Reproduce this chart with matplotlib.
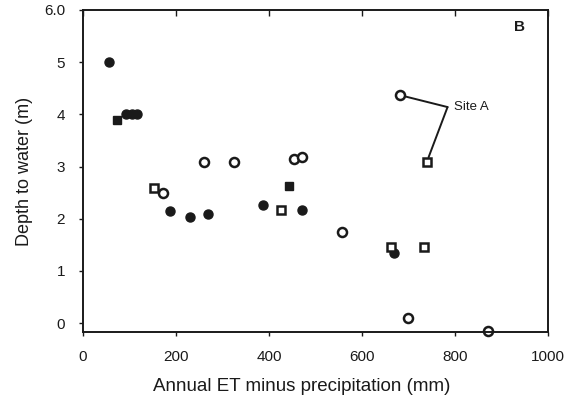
import numpy as np
import matplotlib
matplotlib.use("Agg")
import matplotlib.pyplot as plt

# values
filled_circle_x = [56, 92, 105, 116, 188, 231, 268, 388, 471, 668]
filled_circle_y = [5.0, 4.0, 4.0, 4.0, 2.15, 2.03, 2.09, 2.26, 2.17, 1.34]
filled_square_x = [73, 443]
filled_square_y = [3.89, 2.62]
open_circle_x = [261, 325, 171, 454, 471, 557, 698, 871, 681]
open_circle_y = [3.08, 3.08, 2.49, 3.14, 3.18, 1.74, 0.10, -0.15, 4.37]
open_square_x = [152, 426, 662, 734, 739]
open_square_y = [2.59, 2.17, 1.46, 1.46, 3.08]

site_a_x = [681, 739]
site_a_y = [4.37, 3.08]
site_a_label = "Site A"

x_ticks = [0, 200, 400, 600, 800, 1000]
x_ticklabels = ["0", "200", "400", "600", "800", "1000"]
y_ticks = [0, 1, 2, 3, 4, 5, 6]
y_ticklabels = ["0", "1", "2", "3", "4", "5", "6.0"]

plt.rcParams['font.family'] = ['Liberation Sans', 'DejaVu Sans']

fig = plt.figure(figsize=(5.7, 4.0), dpi=100)
ax = fig.add_axes([0.1456, 0.17, 0.8158, 0.805])

ink = '#1a1a1a'
ax.plot(filled_circle_x, filled_circle_y, 'o', ms=6.5, mfc=ink, mec=ink, clip_on=False)
ax.plot(filled_square_x, filled_square_y, 's', ms=6, mfc=ink, mec=ink, clip_on=False)
ax.plot(open_circle_x, open_circle_y, 'o', ms=6.5, mfc='white', mec=ink, mew=1.8, clip_on=False)
ax.plot(open_square_x, open_square_y, 's', ms=6, mfc='white', mec=ink, mew=1.8, clip_on=False)

# Site A leader lines
for sx, sy in zip(site_a_x, site_a_y):
    ax.annotate("", xy=(sx, sy), xytext=(784, 4.14),
                arrowprops=dict(arrowstyle='-', color=ink, lw=1.4,
                                shrinkA=0, shrinkB=4))
ax.text(797, 4.14, site_a_label, fontsize=9.5, va='center', ha='left', color=ink)
ax.text(938, 5.67, "B", fontsize=11, fontweight='bold', va='center', ha='center', color=ink)

ax.set_xlim(0, 1000)
ax.set_ylim(-0.17, 6.0)
ax.set_xticks(x_ticks)
ax.set_xticklabels(x_ticklabels)
ax.set_yticks(y_ticks)
ax.set_yticklabels(y_ticklabels)
ax.tick_params(direction='out', length=3, width=1, pad=10, labelsize=11, colors=ink)

top = ax.secondary_xaxis('top')
top.set_xticks(x_ticks)
top.tick_params(direction='in', length=4, width=1, labeltop=False, colors=ink)
top.spines['top'].set_visible(False)

for s in ax.spines.values():
    s.set_linewidth(1.4)
    s.set_color(ink)

ax.set_xlabel("Annual ET minus precipitation (mm)", fontsize=13.5, color=ink)
ax.xaxis.set_label_coords(0.47, -0.142)
ax.set_ylabel("Depth to water (m)", fontsize=13, color=ink, labelpad=8)

fig.savefig("out.png", dpi=100)
